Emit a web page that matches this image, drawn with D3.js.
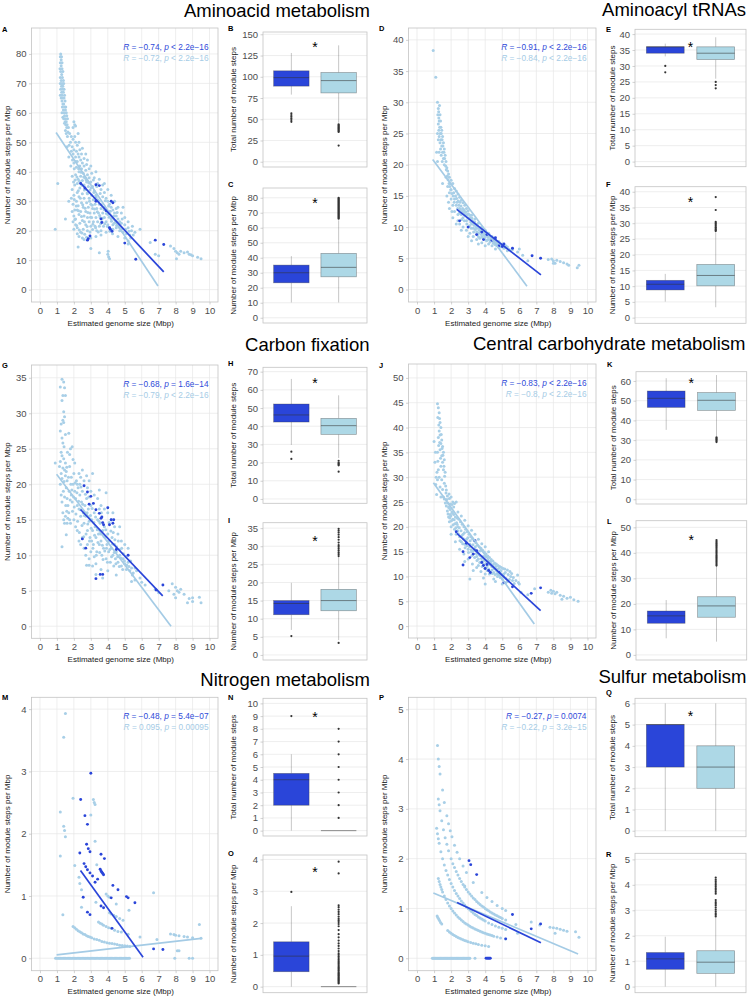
<!DOCTYPE html>
<html><head><meta charset="utf-8">
<script src="https://cdn.jsdelivr.net/npm/d3@7"></script>
<style>body{margin:0;background:#fff}svg{display:block}</style>
</head><body>
<script>
// ---------------- DATA ----------------
const genomeTicks = [0,1,2,3,4,5,6,7,8,9,10];

// Scatter: [estimated genome size (Mbp), module steps per Mbp]
const aLight = [[0.9,20.5],[1.05,36],[1.22,80],[1.2,79],[1.27,79],[1.25,78],[1.2,77],[1.3,77],[1.25,76],[1.18,75],[1.3,75],[1.22,74],[1.35,74],[1.28,73],[1.2,72],[1.32,72],[1.25,71],[1.38,71],[1.2,70],[1.3,70],[1.4,70],[1.27,69],[1.35,69],[1.22,68],[1.33,68],[1.42,68],[1.28,67],[1.38,67],[1.2,66],[1.3,66],[1.45,66],[1.25,65],[1.35,65],[1.42,65],[1.3,64],[1.48,64],[1.35,63],[1.4,63],[1.32,62],[1.45,62],[1.52,62],[1.38,61],[1.5,61],[1.3,60],[1.42,60],[1.55,60],[1.45,59],[1.58,59],[1.4,58],[1.5,58],[1.62,58],[1.48,57],[1.55,57],[1.52,56],[1.6,56],[1.58,55],[1.68,55],[2.0,57],[2.05,56],[2.1,55.5],[1.95,55],
[1.75,53],[1.85,52],[1.95,51],[2.05,52],[1.8,50],[2.1,50],[2.2,49],[1.9,48.5],[2.0,47.5],[2.15,47],[2.25,46],[1.95,46],[2.3,45],[2.1,45],[2.4,44],[2.2,43.5],[2.5,43],[2.0,43],[2.35,42],[2.6,42],[2.15,41.5],[2.45,41],[2.7,40.5],[2.3,40],[2.55,39.5],[2.8,39],[2.1,39],[2.4,38.5],[2.65,38],[2.9,38],[2.25,37.5],[2.5,37],[2.75,36.5],[3.0,36.5],[2.2,36],[2.6,35.5],[2.85,35],[3.1,35],[2.35,34.5],[2.7,34],[2.95,33.8],[3.2,33.5],[2.2,33],[2.5,32.5],[2.8,32.5],[3.05,32],[3.3,32],[2.3,31.5],[2.6,31],[2.9,31],[3.15,30.5],[3.4,30.5],[2.15,30],[2.45,29.5],[2.75,29.5],[3.0,29],[3.25,29],[3.5,29],[2.25,28.5],[2.55,28],[2.85,28],[3.1,27.5],[3.35,27.5],[3.6,27.5],[2.2,27],[2.4,26.5],[2.7,26.5],[2.95,26],[3.2,26],[3.45,26],[3.7,26],[2.3,25.5],[2.6,25],[2.8,24.5],[3.05,24.5],[3.3,24.5],[3.55,24.5],[3.8,24.5],[2.1,24],[2.5,23.5],[2.9,23],[3.15,23],[3.4,23],[3.65,23],[3.9,23],[2.35,22.5],[2.7,22],[3.0,21.5],[3.25,21.5],[3.5,21.5],[3.75,21.5],[4.0,22],[2.2,21],[2.55,20.5],[3.35,20],[3.6,20],[4.1,21],[2.4,19.5],[2.8,20],[4.3,20.5],[4.5,21],[4.7,20],[4.9,19.5],[5.1,19],[5.3,18.5],[5.5,18.5],[4.6,18],[5.0,17.5],[5.2,16.5],
[3.2,38],[3.4,36],[3.6,34],[3.8,33],[3.5,37.5],[3.7,35.5],[3.9,31],[4.0,30],[4.1,29],[4.2,28],[4.3,27],[4.4,26],[4.5,25],[4.6,24],[4.7,23],[4.8,22.5],[5.0,22],[5.2,21],[5.4,20],[5.6,19.5],[3.3,40],[3.0,42],[2.8,44],[2.7,46],[2.5,48],[2.3,50],[4.2,32],[4.0,34],[3.8,36],[4.4,30],[4.6,28],[4.8,26],[5.0,24.5],[5.2,23],[4.9,28],[4.5,27.5],[4.2,24],[4.0,25.5],[3.8,28],[4.3,22],[4.5,23],[3.9,19.5],[3.6,18.5],[3.3,18],[3.0,17.5],
[1.9,34],[2.0,32],[1.95,29],[2.05,27],[2.0,25],[2.1,22],[2.0,20.5],[2.2,19],[2.3,18],[2.5,17.5],[2.6,17],[1.85,31],[1.9,26.5],[1.95,23],[2.05,35.5],
[1.5,24],[1.7,30],[2.25,14.5],[4.0,12],[4.05,11.2],[4.1,10.5],[4.02,13],[5.2,15.5],[5.9,20.5],[6.8,12],[7.0,11.5],[6.5,16],[3.0,14],[3.5,12.5],[7.7,14.8],[7.9,14],[8.0,13],[8.1,12.5],[8.2,12],[8.3,13],[8.5,12.5],[8.7,12.8],[8.8,12],[9.0,11.5],[9.3,11],[9.5,10.5],[8.05,10.5],[8.9,11.8],
[2.12,43.5],[2.28,41],[2.42,39.8],[2.58,38.2],[2.72,37.3],[2.88,36.2],[3.02,34.6],[3.18,33],[3.32,31.4],[3.48,30],[3.62,28.8],[3.78,27.2],[3.92,25.8],[4.08,24.6],[4.22,23.2],[4.38,22.5],[4.52,21.8],[4.68,21.2],[4.82,20.6],[2.18,38.2],[2.32,36.8],[2.48,35.4],[2.62,33.8],[2.78,32.8],[2.92,30],[3.08,28.6],[3.22,27.4],[3.38,26.4],[3.52,25.2],[3.68,24.2],[3.82,22.4],[3.98,21.4],[4.12,19.8],[4.28,19],[2.08,37.2],[2.26,33.6],[2.38,31],[2.52,28.8],[2.66,27.6],[2.82,26.2],[2.98,24.6],[3.12,22.2],[3.28,21],[3.44,19.6],[3.58,22.4],[2.14,28.4],[2.27,26.8],[2.45,24.8],[2.62,23],[2.78,21.4],[2.95,19.6],[3.1,20.4],[2.02,30.6],[2.06,23.8],[2.16,21.8],[2.32,20.2],[2.48,19.2],[2.64,18.8],[2.75,17.8],[1.62,52],[1.72,49],[1.85,47],[1.92,44],[2.02,41],[1.9,38.5],[1.98,36.5],[1.82,42],[1.7,45],[1.6,48.5],[1.65,53.5],[1.55,53],[1.45,56.5],[1.35,58.5],[1.5,54],[2.25,53],[2.35,47.5],[2.45,46],[2.6,44.5],[2.75,42.5],[2.9,41],[3.05,39.5],[3.15,37.2],[3.35,35],[3.55,32.6],[3.7,31.5],[3.85,30.2],[4.05,28.4],[4.15,26.6],[4.35,25],[4.55,26.2],[4.65,22],[4.85,24],[5.05,20.5],[5.25,19.8],[5.45,21.5],[5.35,17.5]];
const aDark = [[2.4,36],[2.65,34.5],[2.85,17.3],[2.95,18.2],[2.8,16.8],[3.3,35.6],[3.5,35.3],[3.3,30],[3.6,24],[3.65,22.8],[3.9,26.8],[4.2,30],[4.3,29.5],[4.1,21],[4.15,20.5],[4.25,19.8],[5.0,15.8],[5.65,10.3],[6.8,16.8],[7.3,15.3]];
const aFitDark = [[2.37,36.3],[7.3,6.0]];
const aFitLight = [[0.95,53.3],[6.96,1.25]];

const dLight = [[0.95,38.3],[1.1,34],[1.2,30],[1.25,29],[1.22,28],[1.28,27.5],[1.3,27],[1.25,26.5],[1.33,26],[1.28,25.5],[1.36,25],[1.3,24.5],[1.4,24],[1.35,23.5],[1.45,23],[1.38,22.5],[1.5,22],[1.42,21.5],[1.55,21],[1.48,20.5],[1.6,20],[1.3,22],[1.25,24],[1.4,26],[1.2,25],[1.35,28],[1.45,25.5],[1.5,24.5],[1.55,23.5],[1.6,22.5],[1.65,21.5],[1.7,20.5],[1.75,19.5],[1.8,19],[1.85,18.5],[1.9,18],[2.0,17.5],[2.1,17],[2.2,16.2],[2.3,15.8],[2.4,15.3],[2.5,14.8],[2.6,14.3],[2.7,13.9],[2.8,13.5],[2.9,13],[3.0,12.6],[3.2,11.9],[3.4,11.3],[3.6,10.6],[3.8,10],[4.0,9.5],[4.2,9],[4.4,8.5],[4.6,8.1],[4.8,7.7],[5.0,7.3],[5.3,6.8],[5.6,6.4],[5.9,6.0],
[1.7,18],[1.8,16.5],[1.9,15.5],[2.0,14.5],[2.1,13.5],[2.0,16],[2.2,14.5],[2.2,12.5],[2.3,13.5],[2.4,12],[2.5,13],[2.4,11],[2.6,12],[2.5,10.5],[2.7,11.5],[2.8,12.5],[2.7,10],[2.9,11],[3.0,10],[3.1,11.5],[2.9,9.5],[3.2,10.5],[3.1,9],[3.3,9.8],[3.4,10.5],[3.5,9.2],[3.3,8.5],[3.6,8.5],[3.7,9.5],[3.8,8.5],[3.5,8],[3.9,9],[4.0,8],[3.8,7.5],[4.1,8.6],[4.3,8],[4.2,7.3],[4.5,7.5],[4.4,7],[4.7,7.2],[4.9,6.8],[4.6,6.5],[5.1,6.6],[5.3,6.2],[5.5,6.2],[1.85,14],[1.9,13],[2.1,11.5],[2.3,10.5],[1.75,15],[2.6,9.5],[3.0,8.5],[3.2,7.8],[3.6,7.3],[4.0,7],[2.05,12.5],[1.95,17],[2.15,15.5],[2.35,14],[2.45,13.5],[2.55,12.8],[2.65,12.5],[2.75,12.8],[2.85,11.8],[2.95,12],[3.05,11.3],[3.15,10.8],[3.25,11],[3.35,10.3],[3.45,10],[3.55,9.8],[3.65,9.5],[3.75,9.2],[3.85,9.3],[3.95,8.7],[4.05,8.8],[4.15,8.4],[4.25,8.6],[4.35,8.2],[4.45,7.9],[4.55,7.8],[4.65,7.6],[4.75,7.4],[4.85,7.3],[4.95,7],
[1.2,20.5],[1.15,22],[1.5,17],[6.0,6.5],[6.2,5.5],[7.7,4.8],[7.9,4.9],[8.0,4.6],[8.1,4.2],[8.2,4.7],[8.4,4.5],[8.6,4.3],[8.8,4.1],[8.9,3.9],[9.4,3.5],[9.5,3.9],[8.0,4.2],[6.5,4.6],
[1.32,29.5],[1.27,28.5],[1.38,27],[1.42,25],[1.47,24],[1.52,23],[1.58,22],[1.62,21],[1.68,19.8],[1.72,19.2],[1.78,18.2],[1.82,17.6],[1.88,17],[1.92,16.5],[1.98,16],[2.04,15.4],[2.12,15],[2.18,14],[2.26,15],[2.32,14.6],[2.38,13],[2.42,14.2],[2.48,12.2],[2.52,14],[2.58,13.4],[2.62,11.2],[2.68,13],[2.72,12.2],[2.78,11],[2.82,12],[2.88,12.4],[2.92,10.5],[2.98,11.5],[3.02,12.1],[3.08,10.2],[3.12,11.9],[3.18,9.8],[3.22,11.4],[3.28,10.6],[3.32,9.2],[3.38,10.8],[3.42,9.6],[3.48,10.4],[3.52,8.8],[3.58,10],[3.62,9],[3.68,8.2],[3.72,9.8],[3.78,8.8],[3.82,9.6],[3.88,8.2],[3.92,9.4],[3.98,8.4],[4.02,9.2],[4.08,7.8],[4.12,9],[4.18,8],[4.22,8.8],[4.28,7.6],[4.32,8.4],[4.38,7.8],[4.42,8.3],[4.48,7.4],[4.52,8],[4.58,7.2],[4.62,7.8],[4.68,7],[4.72,7.6],[4.78,6.8],[4.82,7.4],[4.88,7],[4.92,7.2],[5.05,6.9],[5.2,6.7],[5.4,6.4],[5.2,7.0]];
const dDark = [[2.5,11],[3.0,10],[3.5,8.8],[3.9,8.0],[4.1,8.8],[4.4,7.9],[4.8,7.0],[5.0,6.9],[5.6,6.6],[5.1,7.3],[6.75,5.4],[7.25,5.0],[3.8,9.2],[4.6,8.3]];
const dFitDark = [[2.33,12.83],[7.27,2.35]];
const dFitLight = [[0.92,20.85],[6.45,0.53]];

const gLight = [[1.3,34.8],[1.4,34.4],[1.45,33.6],[1.2,33.7],[1.35,32.5],[1.5,32.5],[1.3,31.8],[1.4,30.2],[1.45,29.5],[1.35,29],[1.4,28.7],[1.25,28.5],[1.2,27.5],[1.5,27],[1.3,26.5],[1.35,25.8],[1.42,25.3],[1.25,24.5],[1.3,24],[1.4,23.6],[1.2,23.2],[1.5,23],[1.35,22.3],[1.45,22],[1.25,21.5],[1.55,21.8],[1.3,20.8],[1.7,27.2],[1.8,25],[1.9,25.3],[1.75,24.2],[1.95,23.5],[1.6,20.5],[1.2,20],[1.25,18.5],[1.3,17.5],[1.35,16],[1.4,15],[1.45,14.5],[1.5,15.5],[1.3,11.2],[0.9,23],[1.15,22.5],[1.55,19.5],[1.6,18],[1.65,17],[1.7,16],[1.75,15],[1.8,14.5],[1.85,18.5],[1.9,17.5],[1.95,20],[2.0,21.5],[2.05,19],[2.1,18],[2.15,20.5],[2.2,17],[2.25,19.5],[2.3,16.5],[2.35,18.5],[2.4,15.5],[2.45,17.5],[2.5,19],[2.55,16],[2.6,14.5],[2.65,17],[2.7,15.5],[2.75,18],[2.8,13.5],[2.85,16.5],[2.9,14.8],[2.95,12.5],[3.0,17],[3.05,15],[3.1,13.5],[3.15,11.5],[3.2,16],[3.25,14],[3.3,12.5],[3.35,10.5],[3.4,15],[3.45,13],[3.5,11.5],[3.55,14.5],[3.6,12],[3.65,10],[3.7,13.5],[3.75,11],[3.8,14],[3.85,12.5],[3.9,9.5],[3.95,11.5],[4.0,13],[4.05,10.5],[4.1,12],[4.15,9],[4.2,11],[4.25,12.5],[4.3,10],[4.35,8.5],[4.4,11.5],[4.45,9.5],[4.5,10.5],[4.6,9],[4.7,10],[4.8,8.5],[4.9,9.5],[5.0,8.8],[5.1,8],[5.2,9],[5.3,7.8],[5.4,8.2],[5.5,7.5],[5.7,7.8],[5.9,6.8],
[2.0,15],[2.1,14],[2.2,13.5],[2.3,12],[2.4,11.5],[2.5,12.5],[2.6,11],[2.7,10],[2.8,11.5],[2.9,9.5],[3.0,10.5],[3.1,8.5],[3.2,9.8],[3.3,8.8],[2.2,20],[2.4,21],[2.6,20.5],[2.8,19.5],[3.0,19],[3.2,18.5],[3.4,18],[3.6,17],[3.8,16.5],[4.0,16],[4.2,15],[4.4,14],[4.6,13],[4.8,12],[5.0,11.5],[5.2,11],[2.3,21.5],[2.5,22],[1.85,21],[1.75,22.5],[2.05,23],[2.35,20],[2.9,20.5],[3.5,16.5],[4.3,16],[4.7,14],[3.1,21.5],[2.75,21.2],[3.5,19.2],[3.9,18.8],[3.05,12],[3.6,8],[4.0,7.8],[2.9,8.6],[2.75,8.6],[3.3,7.3],[3.7,6.8],[4.5,7.2],[5.4,6.3],[5.6,6.5],[6.0,6.2],[6.2,5.8],[6.8,5.2],[7.0,4.7],[7.8,6],[8.0,5.5],[8.1,5],[8.2,4.8],[7.9,4.5],[8.0,4],[8.3,5.2],[8.5,4.5],[8.8,3.9],[8.7,3.3],[9.0,3.5],[9.0,4.0],[9.4,4.1],[9.5,3.3],[7.6,5],[1.55,12.9],[1.6,14.5],
[1.82,20],[1.88,19.2],[1.92,16.2],[1.98,18.2],[2.02,16.8],[2.08,20.2],[2.12,15.8],[2.18,18.8],[2.22,14.8],[2.28,17.6],[2.32,13.2],[2.38,16.4],[2.42,19.6],[2.48,14.2],[2.52,17.2],[2.58,12.6],[2.62,15.6],[2.68,18.6],[2.72,13],[2.78,16],[2.82,14.4],[2.88,18.2],[2.92,12],[2.98,15.6],[3.02,13.8],[3.08,16.6],[3.12,11],[3.18,14.6],[3.22,12.8],[3.28,15.4],[3.32,10],[3.38,13.6],[3.42,11.8],[3.48,14.8],[3.52,10.4],[3.58,13],[3.62,16],[3.68,11.4],[3.72,9.4],[3.78,12.6],[3.82,10.6],[3.88,13.6],[3.92,11],[3.98,9],[4.02,12],[4.08,14.6],[4.12,10.8],[4.18,13.4],[4.22,9.8],[4.28,11.6],[4.32,13.2],[4.38,10.4],[4.42,12.2],[4.48,8.8],[4.52,11.2],[4.58,9.8],[4.62,12],[4.68,8.4],[4.72,10.8],[4.78,9.6],[4.82,11],[4.88,8],[4.92,10.2],[4.98,9.2],[5.08,9.8],[5.12,8.6],[5.25,8.4],[5.35,9.2],[5.45,7.2],[5.6,8.2],[1.42,20.4],[1.5,21.2],[1.58,22.4],[1.62,24.5],[1.68,21],[1.72,19],[1.78,17.8],[1.38,19],[1.45,18.2],[1.52,17],[1.58,16.2],[1.64,15.2]];
const gDark = [[2.6,19.8],[2.8,18.9],[3.0,18.3],[2.9,17.2],[3.3,16.4],[3.5,15.9],[3.6,15.2],[3.7,14.6],[3.75,14.3],[3.65,15.4],[4.0,16.7],[4.2,15],[4.3,14.5],[4.35,15],[4.1,14.3],[3.3,6.7],[3.55,7.3],[3.7,7.3],[2.7,11],[5.2,10],[4.5,10.8],[6.85,5.1],[7.25,5.8],[2.5,12.3],[3.15,17.3]];
const gFitDark = [[2.39,16.44],[7.24,4.27]];
const gFitLight = [[0.98,21.4],[7.73,0.0]];

const jLight = [[1.2,44.8],[1.25,44],[1.3,43],[1.22,42],[1.35,41],[1.28,40.5],[1.4,40],[1.3,39.3],[1.35,38.5],[1.45,37.5],[1.4,36.8],[1.5,36.2],[1.35,35.5],[1.55,35],[1.45,34.3],[1.6,33.5],[1.5,33],[1.4,32.2],[1.55,31.5],[1.65,31],[1.3,30],[1.45,29.5],[1.6,28.8],[1.35,28],[1.5,27.5],[1.7,26.8],[1.55,26],[1.0,37.2],[1.05,33],[1.1,28.5],[1.15,26.5],[1.2,35],[1.25,31.5],[1.25,38],[1.2,29.5],[1.4,26],[1.75,25.5],[1.8,24.8],[1.9,25.7],[2.0,26],[2.1,25],[2.2,24.7],[2.3,25],[1.85,24],[1.95,23.5],[2.05,23],[2.15,22.5],[2.25,22],[2.35,21.8],[2.45,21.5],[2.55,21],[2.65,20.5],[2.75,20],[2.85,19.5],[2.95,19],[3.05,18.5],[3.15,18],[3.25,17.6],[3.35,17.2],[3.45,16.8],[3.55,16.3],[3.65,16],[3.75,15.7],[3.85,15.3],[3.95,14.9],[4.05,14.5],[4.15,14.1],[4.25,13.8],[4.35,13.4],[4.45,13.1],[4.55,12.7],[4.65,12.5],[4.75,12.2],[4.85,12],[4.95,11.8],[5.05,11.6],[5.15,11.5],[5.3,11.3],[5.45,11],
[1.9,21],[2.0,20],[2.1,21.5],[2.2,19.5],[2.3,18.5],[2.4,20],[2.5,18],[2.6,17],[2.7,18.5],[2.8,16.5],[2.9,17.5],[3.0,15.5],[3.1,16.5],[3.2,15],[3.3,14.5],[3.4,15.5],[3.5,14],[3.6,13.5],[3.7,14.2],[3.8,13],[3.9,12.5],[4.0,13.3],[4.1,12],[4.2,11.5],[4.3,12.5],[4.4,11.3],[4.5,10.8],[4.6,11.5],[4.7,10.5],[4.8,10.2],[4.9,11],[5.0,9.5],[5.1,10.5],[5.3,9],[5.5,10],[5.7,8.6],[5.9,10.3],[2.25,17],[2.5,15.5],[2.75,14.5],[3.0,13.5],[3.25,12.5],[3.5,11.8],[3.75,11],[4.0,10.5],[4.25,10.5],[2.0,18.5],[2.15,24],[2.4,23],[2.6,22.2],[2.8,21.3],[3.0,20.2],[3.2,19.3],[3.4,18.5],[3.6,17.5],[3.8,16.6],[4.0,16],[4.2,15],[1.95,22.5],[2.05,24.5],[1.85,22],[2.35,20.5],[3.1,9.5],[4.0,8.5],[4.5,9.5],[5.2,8.7],[5.6,9.2],[6.0,8.5],[6.1,6.8],[6.5,6.3],[6.9,7.5],[7.7,6.8],[7.85,7.2],[7.9,6.6],[8.0,7],[8.1,6.5],[8.2,6.8],[8.4,6.2],[8.6,6],[8.8,5.6],[8.5,5.4],[9.0,5.8],[9.2,5.3],[9.45,5.0],[2.8,13],[3.6,12.2],[4.6,9],[5.0,8.5],[3.3,11.2],[3.9,9.7],
[1.72,24.2],[1.78,23.2],[1.82,22.6],[1.88,23.8],[1.92,21.8],[1.98,22.2],[2.02,21.2],[2.08,22.8],[2.12,20.4],[2.18,21.4],[2.22,20.6],[2.28,19.8],[2.32,20.8],[2.38,19.2],[2.42,18.6],[2.48,19.8],[2.52,17.2],[2.58,19.2],[2.62,18.2],[2.68,16.6],[2.72,17.6],[2.78,18.8],[2.82,15.8],[2.88,17],[2.92,16.2],[2.98,17.8],[3.02,14.8],[3.08,16],[3.12,17.2],[3.18,15.4],[3.22,14.2],[3.28,16.4],[3.32,15.2],[3.38,13.8],[3.42,16],[3.48,14.6],[3.52,13.2],[3.58,15],[3.62,14.4],[3.68,12.8],[3.72,15.2],[3.78,13.6],[3.82,12],[3.88,14],[3.92,13.2],[3.98,11.6],[4.02,14],[4.08,12.8],[4.12,11.2],[4.18,13],[4.22,12.4],[4.28,11],[4.32,13],[4.38,12],[4.42,10.6],[4.48,12.4],[4.52,11.6],[4.58,10.4],[4.62,12],[4.68,11.2],[4.72,10],[4.78,11.6],[4.82,10.8],[4.88,9.8],[4.92,11.2],[4.98,10.4],[5.08,10],[5.18,10.8],[5.22,9.6],[5.35,10.4],[5.42,9.4],[5.55,10.6],[5.65,9.8],[5.8,9.2],[5.95,8.8],[1.62,30.2],[1.68,28.2],[1.72,27.4],[1.58,32.2],[1.52,34.4],[1.42,38.6],[1.32,41.8],[1.47,35.8],[1.38,33.8],[1.33,37],[1.27,36.4],[1.22,33.2],[1.17,31],[1.12,30],[1.08,35],[1.6,25.6],[1.66,24.8],[1.78,26.2],[1.88,26.6],[1.95,24.6]];
const jDark = [[2.3,19],[2.7,15],[3.1,13.8],[2.9,16.7],[3.4,17.2],[3.5,15.2],[3.8,12.8],[3.9,12.2],[4.0,11.6],[4.3,10.8],[4.2,11.2],[4.1,12.4],[4.8,10.8],[5.1,8.8],[5.6,7.9],[6.7,6.6],[7.25,7.7],[3.3,14.5],[2.7,12.3]];
const jFitDark = [[2.34,18.66],[7.25,3.09]];
const jFitLight = [[0.96,28.9],[6.88,0.4]];

const mLight = [[0.92,0],[1.0,0],[1.08,0],[1.15,0],[1.22,0],[1.3,0],[1.38,0],[1.45,0],[1.52,0],[1.6,0],[1.68,0],[1.75,0],[1.82,0],[1.9,0],[1.98,0],[2.05,0],[2.12,0],[2.2,0],[2.28,0],[2.35,0],[2.42,0],[2.5,0],[2.58,0],[2.65,0],[2.72,0],[2.8,0],[2.88,0],[2.95,0],[3.02,0],[3.1,0],[3.18,0],[3.25,0],[3.32,0],[3.4,0],[3.48,0],[3.55,0],[3.62,0],[3.7,0],[3.78,0],[3.85,0],[3.92,0],[4.0,0],[4.08,0],[4.15,0],[4.22,0],[4.3,0],[4.38,0],[4.45,0],[4.52,0],[4.6,0],[4.68,0],[4.75,0],[4.82,0],[4.9,0],[4.98,0],[5.05,0],[5.12,0],[5.2,0],[5.28,0],
[1.95,0.51],[2.05,0.49],[2.15,0.465],[2.25,0.44],[2.35,0.425],[2.45,0.41],[2.55,0.39],[2.65,0.38],[2.75,0.36],[2.85,0.35],[2.95,0.34],[3.05,0.33],[3.2,0.31],[3.35,0.3],[3.5,0.29],[3.65,0.27],[3.8,0.26],[3.95,0.25],[4.1,0.24],[4.25,0.235],[4.4,0.23],[4.55,0.22],[4.7,0.21],[4.85,0.205],[5.0,0.2],[5.15,0.195],[5.3,0.19],
[3.45,0.58],[3.55,0.56],[3.65,0.55],[3.75,0.53],[3.9,0.51],[4.05,0.49],[4.2,0.48],[4.4,0.45],[4.6,0.43],[4.8,0.42],[5.2,0.385],[2.45,0.82],[4.1,0.73],[4.2,0.71],[4.35,0.69],[4.5,0.67],[4.7,0.64],[4.9,0.61],[3.9,1.03],[4.0,1.0],[4.1,0.98],[4.5,0.87],[5.25,0.77],
[1.4,3.55],[1.5,3.93],[1.2,2.35],[1.2,1.64],[1.35,0.7],[1.4,2.12],[1.45,2.05],[1.5,1.95],[1.95,2.57],[2.05,1.49],[2.3,1.3],[2.35,1.2],[2.45,1.1],[3.0,2.3],[3.15,2.55],[3.2,2.5],[3.25,2.47],[3.25,1.88],[3.35,1.5],[3.3,0.9],[6.7,1.05],[6.9,0.3],[5.9,0.34],[7.7,0.39],[7.9,0.38],[8.0,0.37],[8.2,0.36],[8.5,0.35],[8.7,0.34],[9.0,0.33],[9.4,0.54],[9.5,0.32],[8.1,0.12],[8.2,0.12],[7.95,0],[8.8,0],[9.0,0]];
const mDark = [[2.4,2.55],[2.65,2.29],[2.8,2.15],[3.0,2.97],[2.35,1.69],[2.75,1.83],[2.85,1.76],[2.95,1.71],[3.6,1.67],[3.8,1.6],[2.6,1.52],[2.7,1.47],[2.8,1.42],[2.95,1.37],[3.1,1.32],[3.25,1.22],[3.55,1.43],[3.6,1.4],[3.65,1.38],[3.7,1.36],[3.75,1.34],[4.3,1.17],[4.6,1.1],[4.2,0.97],[5.1,0.99],[5.2,0.97],[5.6,0.89],[2.8,0.74],[2.95,0.7],[3.6,0.84],[3.75,0.81],[4.25,0.48],[6.7,0.15],[7.25,0.14],[2.55,0.98],[3.4,1.27]];
const mFitDark = [[2.39,1.41],[6.08,0.016]];
const mFitLight = [[0.98,0.054],[9.51,0.32]];

const pLight = [[0.9,0],[0.95,0],[1.0,0],[1.05,0],[1.1,0],[1.15,0],[1.2,0],[1.25,0],[1.3,0],[1.35,0],[1.4,0],[1.45,0],[1.5,0],[1.55,0],[1.6,0],[1.65,0],[1.7,0],[1.75,0],[1.8,0],[1.85,0],[1.9,0],[1.95,0],[2.0,0],[2.05,0],[2.1,0],[2.15,0],[2.2,0],[2.25,0],[2.3,0],[2.35,0],[2.4,0],[2.45,0],[2.5,0],[2.55,0],[2.6,0],[2.65,0],[2.7,0],[2.75,0],[2.8,0],[2.85,0],[2.9,0],[2.95,0],[3.0,0],[3.05,0],[3.1,0],[3.4,0],
[1.18,0.85],[1.22,0.82],[1.27,0.79],[1.32,0.76],[1.38,0.72],[1.45,0.69],[1.8,0.556],[1.9,0.526],[2.0,0.5],[2.1,0.476],[2.2,0.455],[2.3,0.435],[2.4,0.417],[2.5,0.4],[2.6,0.385],[2.7,0.37],[2.8,0.357],[2.9,0.345],[3.0,0.333],[3.15,0.317],[3.3,0.303],[3.45,0.29],[3.6,0.278],[3.8,0.263],[4.0,0.25],[4.2,0.238],
[1.25,1.6],[1.3,1.54],[1.35,1.48],[1.4,1.43],[1.45,1.38],[1.5,1.33],[1.6,1.25],[1.7,1.18],[1.8,1.11],[1.9,1.05],[2.0,1.0],[2.1,0.95],[2.2,0.91],[2.3,0.87],[2.4,0.83],[2.5,0.8],[2.6,0.77],[2.7,0.74],[2.8,0.71],[2.9,0.69],[3.0,0.67],[3.1,0.645],[3.2,0.625],[3.3,0.606],[3.4,0.588],[3.5,0.571],[3.6,0.556],[3.7,0.54],[3.8,0.526],[3.9,0.513],[4.0,0.5],[4.1,0.488],[4.2,0.476],[4.3,0.465],[4.4,0.455],[4.5,0.444],[4.7,0.426],[4.9,0.408],[5.2,0.385],
[1.15,2.61],[1.2,2.5],[1.25,2.4],[1.3,2.31],[1.4,2.14],[1.5,2.0],[1.6,1.875],[1.7,1.76],[1.8,1.67],[1.9,1.58],[2.0,1.5],[2.1,1.43],[2.2,1.36],[2.3,1.3],[2.4,1.25],[2.5,1.2],[2.6,1.15],[2.7,1.11],[2.8,1.07],[2.9,1.03],[3.0,1.0],[3.1,0.97],[3.2,0.94],[3.3,0.91],[3.4,0.88],[3.5,0.86],[3.6,0.83],[3.7,0.81],[3.8,0.79],[3.9,0.77],[4.0,0.75],[4.2,0.71],[4.4,0.68],[4.6,0.65],[4.8,0.625],[5.0,0.6],[5.2,0.577],
[1.25,3.2],[1.3,3.08],[1.35,2.96],[1.45,2.76],[1.55,2.58],[1.65,2.42],[1.75,2.29],[1.85,2.16],[2.0,2.0],[2.1,1.9],[2.2,1.82],[2.3,1.74],[2.4,1.67],[2.5,1.6],[2.6,1.54],[2.7,1.48],[2.8,1.43],[2.9,1.38],[3.0,1.33],[3.1,1.29],[3.2,1.25],[3.3,1.21],[3.4,1.18],[3.5,1.14],[3.6,1.11],[3.7,1.08],[3.8,1.05],[3.9,1.03],[4.0,1.0],[4.1,0.976],[4.2,0.952],[4.3,0.93],[4.4,0.909],[4.5,0.889],[4.6,0.87],[4.7,0.851],[4.8,0.833],[4.9,0.816],[5.0,0.8],[5.2,0.77],
[1.2,4.27],[1.25,4.0],[1.3,3.85],[1.35,3.7],[1.5,3.38],[1.6,3.13],[1.75,2.86],[1.85,2.7],[1.95,2.56],[2.05,2.44],[2.2,2.27],[2.35,2.13],[2.5,2.0],[2.7,1.85],[2.8,1.45],[2.9,1.72],[3.3,1.52],[3.8,1.32],[4.1,1.22],[4.4,1.14],[4.7,1.06],[5.0,1.0],[5.2,0.96],
[5.8,0.68],[6.7,0.73],[7.2,0.67],[7.8,0.62],[8.0,0.61],[8.2,0.6],[8.4,0.58],[8.6,0.56],[8.8,0.54],[9.3,0.53],[9.5,0.42],[8.1,0.5],[5.9,0.5]];
const pDark = [[3.05,1.96],[3.15,1.88],[3.5,1.68],[5.6,0.88],[6.7,0.59],[7.25,0.69],[5.2,0.39],[4.05,0],[4.12,0],[4.18,0],[4.24,0],[4.3,0]];
const pFitDark = [[2.35,1.12],[7.27,0.31]];
const pFitLight = [[0.96,1.31],[9.45,0.087]];

// correlation labels [R, p-text] for dark group and light group
const corA = [["−0.74","p < 2.2e−16"],["−0.72","p < 2.2e−16"]];
const corD = [["−0.91","p < 2.2e−16"],["−0.84","p < 2.2e−16"]];
const corG = [["−0.68","p = 1.6e−14"],["−0.79","p < 2.2e−16"]];
const corJ = [["−0.83","p < 2.2e−16"],["−0.8","p < 2.2e−16"]];
const corM = [["−0.48","p = 5.4e−07"],["0.095","p = 0.00095"]];
const corP = [["−0.27","p = 0.0074"],["−0.22","p = 3.2e−15"]];

// Boxplots: [lower whisker, Q1, median, Q3, upper whisker] for [dark, light]
const boxB = [[79,89,99,107,128],[46,81,95.5,105,137]];
const outB = [[47,49,51,53,55,57],[19,35,36,37,38,39,40,41,42,43,44]];
const boxC = [[10.2,23.3,30,35.1,41.1],[10.2,27.3,33.6,42.9,65]];
const outC = [[],[66,66.5,67,67.5,68,68.5,69,69.5,70,70.5,71,71.5,72,72.5,73,73.5,74,74.5,75,75.5,76,76.5,77,77.5,78,78.5,79,79.5,80]];
const boxE = [[33,34,36,36,37],[26,32,34,36,39]];
const outE = [[28,30],[23,24,25]];
const boxF = [[5.1,8.8,10.6,11.85,13.9],[3.3,10.1,13.4,16.9,27.0]];
const outF = [[],[27.5,27.8,28.1,28.5,28.8,29.2,29.6,30,30.4,34.2,38.3]];
const boxH = [[29.7,42.3,46.2,52.2,66],[22.5,35.5,40.3,44.3,57]];
const outH = [[22,26],[15,18.5,19,19.5,20,21]];
const boxI = [[6.9,11.1,14.2,15.0,19.9],[4.1,12.2,15.0,18.1,27]];
const outI = [[5.2],[3.3,27.3,27.8,28.3,28.8,29.3,29.8,30.3,31,31.8,32.5,33.2,33.8,34.3,34.8]];
const boxK = [[35.2,46.6,51.2,54.9,61.4],[32,45.1,50.2,54.1,63]];
const outK = [[],[29,29.5,30,30.5,31,31.4]];
const boxL = [[6.5,12.4,15.3,17.2,21.5],[5.2,14.75,19.2,22.8,34.8]];
const outL = [[],[35,35.5,36,36.5,37,37.5,38,38.5,39,39.5,40,40.5,41,41.5,42,42.5,43,43.5,44,44.5,45]];
const boxN = [[0,2,4,4.5,6],[0,0,0,0,0]];
const outN = [[9],[1,2,3,4,5,6,7,8]];
const boxO = [[0,0.47,0.96,1.41,2.53],[0,0,0,0,0]];
const outO = [[2.98],[0.1,0.13,0.16,0.19,0.22,0.25,0.28,0.31,0.34,0.37,0.4,0.43,0.46,0.5,0.53,0.57,0.6,0.64,0.68,0.72,0.76,0.8,0.85,0.9,0.95,1.0,1.05,1.12,1.2,1.28,1.36,1.45,1.55,1.65,1.78,1.9,1.97,2.03,2.08,2.13,2.2,2.28,2.35,2.42,2.5,2.56,3.56,3.93]];
const boxQ = [[0,3,5,5,6],[0,2,3,4,6]];
const outQ = [[],[]];
const boxR = [[0,0.68,1.09,1.34,1.96],[0,0.52,0.96,1.41,2.72]];
const outR = [[],[2.76,2.82,2.88,2.95,3.02,3.1,3.18,3.25,3.32,3.4,3.65,3.72,3.8,3.87,3.94,4.0,4.07,4.14,4.2,4.28]];

// significance star height (data units), null = none
const starVals = {B:139,C:78.4,E:37,F:37.6,H:65.4,I:32.4,K:60.5,L:46.3,N:9.2,O:3.69,Q:5.53,R:null};

const titles = ["Aminoacid metabolism","Aminoacyl tRNAs","Carbon fixation","Central carbohydrate metabolism","Nitrogen metabolism","Sulfur metabolism"];
const xTitle = "Estimated genome size (Mbp)";
const yTitleScatter = "Number of module steps per Mbp";
const yTitleTotal = "Total number of module steps";

// ---------------- STYLE / LAYOUT ----------------
const FONT = '"Liberation Sans", Arial, Helvetica, sans-serif';
const DARK = "#2a45d9", LPT = "#a8cfe7", LBOX = "#add8e6", LLINE = "#a4cbe5";
const GRID = "#e6e6e6", BORDER = "#c4c4c4";
const fmt = d3.format("~g");

const svg = d3.select("body").append("svg").attr("width",748).attr("height",998);
svg.append("rect").attr("width",748).attr("height",998).attr("fill","#fff");

const titlePos = [[370,17],[746,16],[369.5,350.5],[745.5,349.5],[370,685.5],[746.5,683]];
titles.forEach((t,i)=>{
  svg.append("text").attr("x",titlePos[i][0]).attr("y",titlePos[i][1]).attr("text-anchor","end")
    .attr("font-family",FONT).attr("font-size",18.5).attr("fill","#000").text(t);
});

function yAxis(g, y, ticks, x0){
  const a = g.append("g").attr("transform",`translate(${x0},0)`)
    .call(d3.axisLeft(y).tickValues(ticks).tickFormat(fmt).tickSize(2.5).tickPadding(2.5));
  a.select(".domain").remove();
  a.attr("font-family",FONT).attr("font-size",9.5);
  a.selectAll("line").attr("stroke","#b3b3b3").attr("stroke-width",0.6);
  a.selectAll("text").attr("fill","#4d4d4d");
}
function panelLabel(t,x,y){
  svg.append("text").attr("x",x).attr("y",y).attr("font-family",FONT).attr("font-weight","bold")
    .attr("font-size",7.5).attr("fill","#000").text(t);
}
function yTitleText(t,x,cy){
  svg.append("text").attr("transform",`translate(${x},${cy}) rotate(-90)`).attr("dy","0.35em")
    .attr("text-anchor","middle").attr("font-family",FONT).attr("font-size",8).attr("fill","#1a1a1a").text(t);
}
function hGrid(g, y, ticks, x0, x1){
  g.selectAll(null).data(ticks).join("line").attr("x1",x0).attr("x2",x1)
    .attr("y1",d=>y(d)).attr("y2",d=>y(d)).attr("stroke",GRID).attr("stroke-width",0.7);
}
function border(g,p){
  g.append("rect").attr("x",p.x0).attr("y",p.y0).attr("width",p.x1-p.x0).attr("height",p.y1-p.y0)
    .attr("fill","none").attr("stroke",BORDER).attr("stroke-width",0.8);
}

function scatterPanel(p){
  const x = d3.scaleLinear().domain([-0.5,10.5]).range([p.x0,p.x1]);
  const y = d3.scaleLinear().domain(p.ydom).range([p.y1,p.y0]);
  const g = svg.append("g");
  g.selectAll(null).data(genomeTicks).join("line").attr("x1",d=>x(d)).attr("x2",d=>x(d))
    .attr("y1",p.y0).attr("y2",p.y1).attr("stroke",GRID).attr("stroke-width",0.7);
  hGrid(g,y,p.yticks,p.x0,p.x1);
  const cid = "clip"+p.label;
  svg.append("clipPath").attr("id",cid).append("rect").attr("x",p.x0).attr("y",p.y0)
    .attr("width",p.x1-p.x0).attr("height",p.y1-p.y0);
  const pg = g.append("g").attr("clip-path",`url(#${cid})`);
  pg.append("g").selectAll("circle").data(p.light).join("circle")
    .attr("cx",d=>x(d[0])).attr("cy",d=>y(d[1])).attr("r",1.5).attr("fill",LPT);
  pg.append("g").selectAll("circle").data(p.dark).join("circle")
    .attr("cx",d=>x(d[0])).attr("cy",d=>y(d[1])).attr("r",1.45).attr("fill",DARK);
  const line = d3.line().x(d=>x(d[0])).y(d=>y(d[1]));
  pg.append("path").attr("d",line(p.fitLight)).attr("stroke",LLINE).attr("stroke-width",1.7).attr("fill","none");
  pg.append("path").attr("d",line(p.fitDark)).attr("stroke",DARK).attr("stroke-width",1.7).attr("fill","none");
  border(g,p);
  yAxis(g,y,p.yticks,p.x0);
  const ax = g.append("g").attr("transform",`translate(0,${p.y1})`)
    .call(d3.axisBottom(x).tickValues(genomeTicks).tickFormat(fmt).tickSize(2.5).tickPadding(2.5));
  ax.select(".domain").remove();
  ax.attr("font-family",FONT).attr("font-size",9.5);
  ax.selectAll("line").attr("stroke","#b3b3b3").attr("stroke-width",0.6);
  ax.selectAll("text").attr("fill","#4d4d4d");
  svg.append("text").attr("x",(p.x0+p.x1)/2-4).attr("y",p.y1+23.5).attr("text-anchor","middle")
    .attr("font-family",FONT).attr("font-size",8).attr("fill","#1a1a1a").text(xTitle);
  yTitleText(yTitleScatter,p.x0-24,(p.y0+p.y1)/2);
  panelLabel(p.label,p.lx,p.ly);
  [0,1].forEach(i=>{
    const t = svg.append("text").attr("x",p.x1-9.5).attr("y",p.y0+21.5+11*i).attr("text-anchor","end")
      .attr("font-family",FONT).attr("font-size",8.3).attr("fill",i===0?"#2f4ad9":"#a6cce6");
    t.append("tspan").attr("font-style","italic").text("R");
    t.append("tspan").text(" = "+p.cor[i][0]+", ");
    t.append("tspan").attr("font-style","italic").text(p.cor[i][1].slice(0,1));
    t.append("tspan").text(p.cor[i][1].slice(1));
  });
}

function boxPanel(p){
  const xb = d3.scaleLinear().domain([0.4,2.6]).range([p.x0,p.x1]);
  const y = d3.scaleLinear().domain(p.ydom).range([p.y1,p.y0]);
  const g = svg.append("g");
  hGrid(g,y,p.yticks,p.x0,p.x1);
  const half = (xb(1.375)-xb(1));
  p.box.forEach((s,i)=>{
    const cx = xb(i+1);
    g.append("line").attr("x1",cx).attr("x2",cx).attr("y1",y(s[0])).attr("y2",y(s[1]))
      .attr("stroke","#333").attr("stroke-opacity",0.35).attr("stroke-width",0.8);
    g.append("line").attr("x1",cx).attr("x2",cx).attr("y1",y(s[3])).attr("y2",y(s[4]))
      .attr("stroke","#333").attr("stroke-opacity",0.35).attr("stroke-width",0.8);
    g.append("rect").attr("x",cx-half).attr("width",2*half).attr("y",y(s[3])).attr("height",y(s[1])-y(s[3]))
      .attr("fill",i===0?DARK:LBOX).attr("stroke","#333").attr("stroke-opacity",0.45).attr("stroke-width",0.7);
    g.append("line").attr("x1",cx-half).attr("x2",cx+half).attr("y1",y(s[2])).attr("y2",y(s[2]))
      .attr("stroke","#333").attr("stroke-opacity",0.55).attr("stroke-width",1);
    g.append("g").selectAll("circle").data(p.out[i]).join("circle").attr("cx",cx).attr("cy",d=>y(d))
      .attr("r",1.1).attr("fill","#333");
  });
  if (p.star!=null){
    g.append("text").attr("x",xb(1.5)).attr("y",y(p.star)+8).attr("text-anchor","middle")
      .attr("font-family",FONT).attr("font-size",14).attr("fill","#000").text("*");
  }
  border(g,p);
  yAxis(g,y,p.yticks,p.x0);
  yTitleText(p.ytitle,p.ytx,(p.y0+p.y1)/2);
  panelLabel(p.label,p.lx,p.ly);
}

const scatterPanels = [
  {label:"A",x0:31.5,x1:218,y0:28,y1:302,ydom:[-4.2,88.8],yticks:d3.range(0,81,10),lx:2,ly:32,light:aLight,dark:aDark,fitDark:aFitDark,fitLight:aFitLight,cor:corA},
  {label:"D",x0:408.5,x1:596,y0:28,y1:302,ydom:[-2,41.9],yticks:d3.range(0,41,5),lx:379,ly:31,light:dLight,dark:dDark,fitDark:dFitDark,fitLight:dFitLight,cor:corD},
  {label:"G",x0:31.5,x1:218,y0:365,y1:638.3,ydom:[-1.7,36.8],yticks:d3.range(0,36,5),lx:2,ly:368,light:gLight,dark:gDark,fitDark:gFitDark,fitLight:gFitLight,cor:corG},
  {label:"J",x0:408.5,x1:596,y0:364,y1:638,ydom:[-2.4,52.8],yticks:d3.range(0,51,5),lx:379,ly:368,light:jLight,dark:jDark,fitDark:jFitDark,fitLight:jFitLight,cor:corJ},
  {label:"M",x0:31.5,x1:218,y0:697.3,y1:970.7,ydom:[-0.2,4.19],yticks:[0,1,2,3,4],lx:2,ly:699.5,light:mLight,dark:mDark,fitDark:mFitDark,fitLight:mFitLight,cor:corM},
  {label:"P",x0:408.5,x1:596,y0:697.3,y1:970.7,ydom:[-0.25,5.24],yticks:[0,1,2,3,4,5],lx:379,ly:700,light:pLight,dark:pDark,fitDark:pFitDark,fitLight:pFitLight,cor:corP}
];
scatterPanels.forEach(scatterPanel);

const boxPanels = [
  {label:"B",x0:263,x1:367,y0:32,y1:167,ydom:[-6.2,152.7],yticks:d3.range(0,151,25),lx:228,ly:31,ytx:233,ytitle:yTitleTotal,box:boxB,out:outB,star:starVals.B},
  {label:"C",x0:263,x1:367,y0:188,y1:323,ydom:[-3.5,86.5],yticks:d3.range(0,81,10),lx:228,ly:187,ytx:233,ytitle:yTitleScatter,box:boxC,out:outC,star:starVals.C},
  {label:"E",x0:635,x1:746,y0:29.3,y1:166.7,ydom:[-1.6,41.5],yticks:d3.range(0,41,5),lx:606,ly:31.7,ytx:611.7,ytitle:yTitleTotal,box:boxE,out:outE,star:starVals.E},
  {label:"F",x0:635,x1:746,y0:186.7,y1:323.3,ydom:[-1.8,41.6],yticks:d3.range(0,41,5),lx:606,ly:186.7,ytx:611.7,ytitle:yTitleScatter,box:boxF,out:outF,star:starVals.F},
  {label:"H",x0:263,x1:367,y0:367.3,y1:503.3,ydom:[-2.4,72.4],yticks:d3.range(0,71,10),lx:228,ly:365.7,ytx:233,ytitle:yTitleTotal,box:boxH,out:outH,star:starVals.H},
  {label:"I",x0:263,x1:367,y0:522.7,y1:660,ydom:[-1.4,36.5],yticks:d3.range(0,36,5),lx:228,ly:523,ytx:233,ytitle:yTitleScatter,box:boxI,out:outI,star:starVals.I},
  {label:"K",x0:636,x1:746.7,y0:371.7,y1:504,ydom:[-2.4,64.7],yticks:d3.range(0,61,10),lx:607,ly:367,ytx:613.3,ytitle:yTitleTotal,box:boxK,out:outK,star:starVals.K},
  {label:"L",x0:636,x1:746.7,y0:520.7,y1:660,ydom:[-2.0,52.6],yticks:d3.range(0,51,10),lx:607,ly:524,ytx:613.3,ytitle:yTitleScatter,box:boxL,out:outL,star:starVals.L},
  {label:"N",x0:263,x1:367,y0:698.3,y1:836,ydom:[-0.42,10.4],yticks:d3.range(0,11,1),lx:228,ly:700,ytx:233,ytitle:yTitleTotal,box:boxN,out:outN,star:starVals.N},
  {label:"O",x0:263,x1:367,y0:855,y1:992.7,ydom:[-0.19,4.14],yticks:[0,1,2,3,4],lx:228,ly:855.7,ytx:233,ytitle:yTitleScatter,box:boxO,out:outO,star:starVals.O},
  {label:"Q",x0:635,x1:746,y0:698.3,y1:836.7,ydom:[-0.28,6.24],yticks:[0,1,2,3,4,5,6],lx:606,ly:695,ytx:611.7,ytitle:yTitleTotal,box:boxQ,out:outQ,star:starVals.Q},
  {label:"R",x0:635,x1:746,y0:853.3,y1:992.7,ydom:[-0.24,5.24],yticks:[0,1,2,3,4,5],lx:606,ly:857,ytx:611.7,ytitle:yTitleScatter,box:boxR,out:outR,star:starVals.R}
];
boxPanels.forEach(boxPanel);
</script>
</body></html>
